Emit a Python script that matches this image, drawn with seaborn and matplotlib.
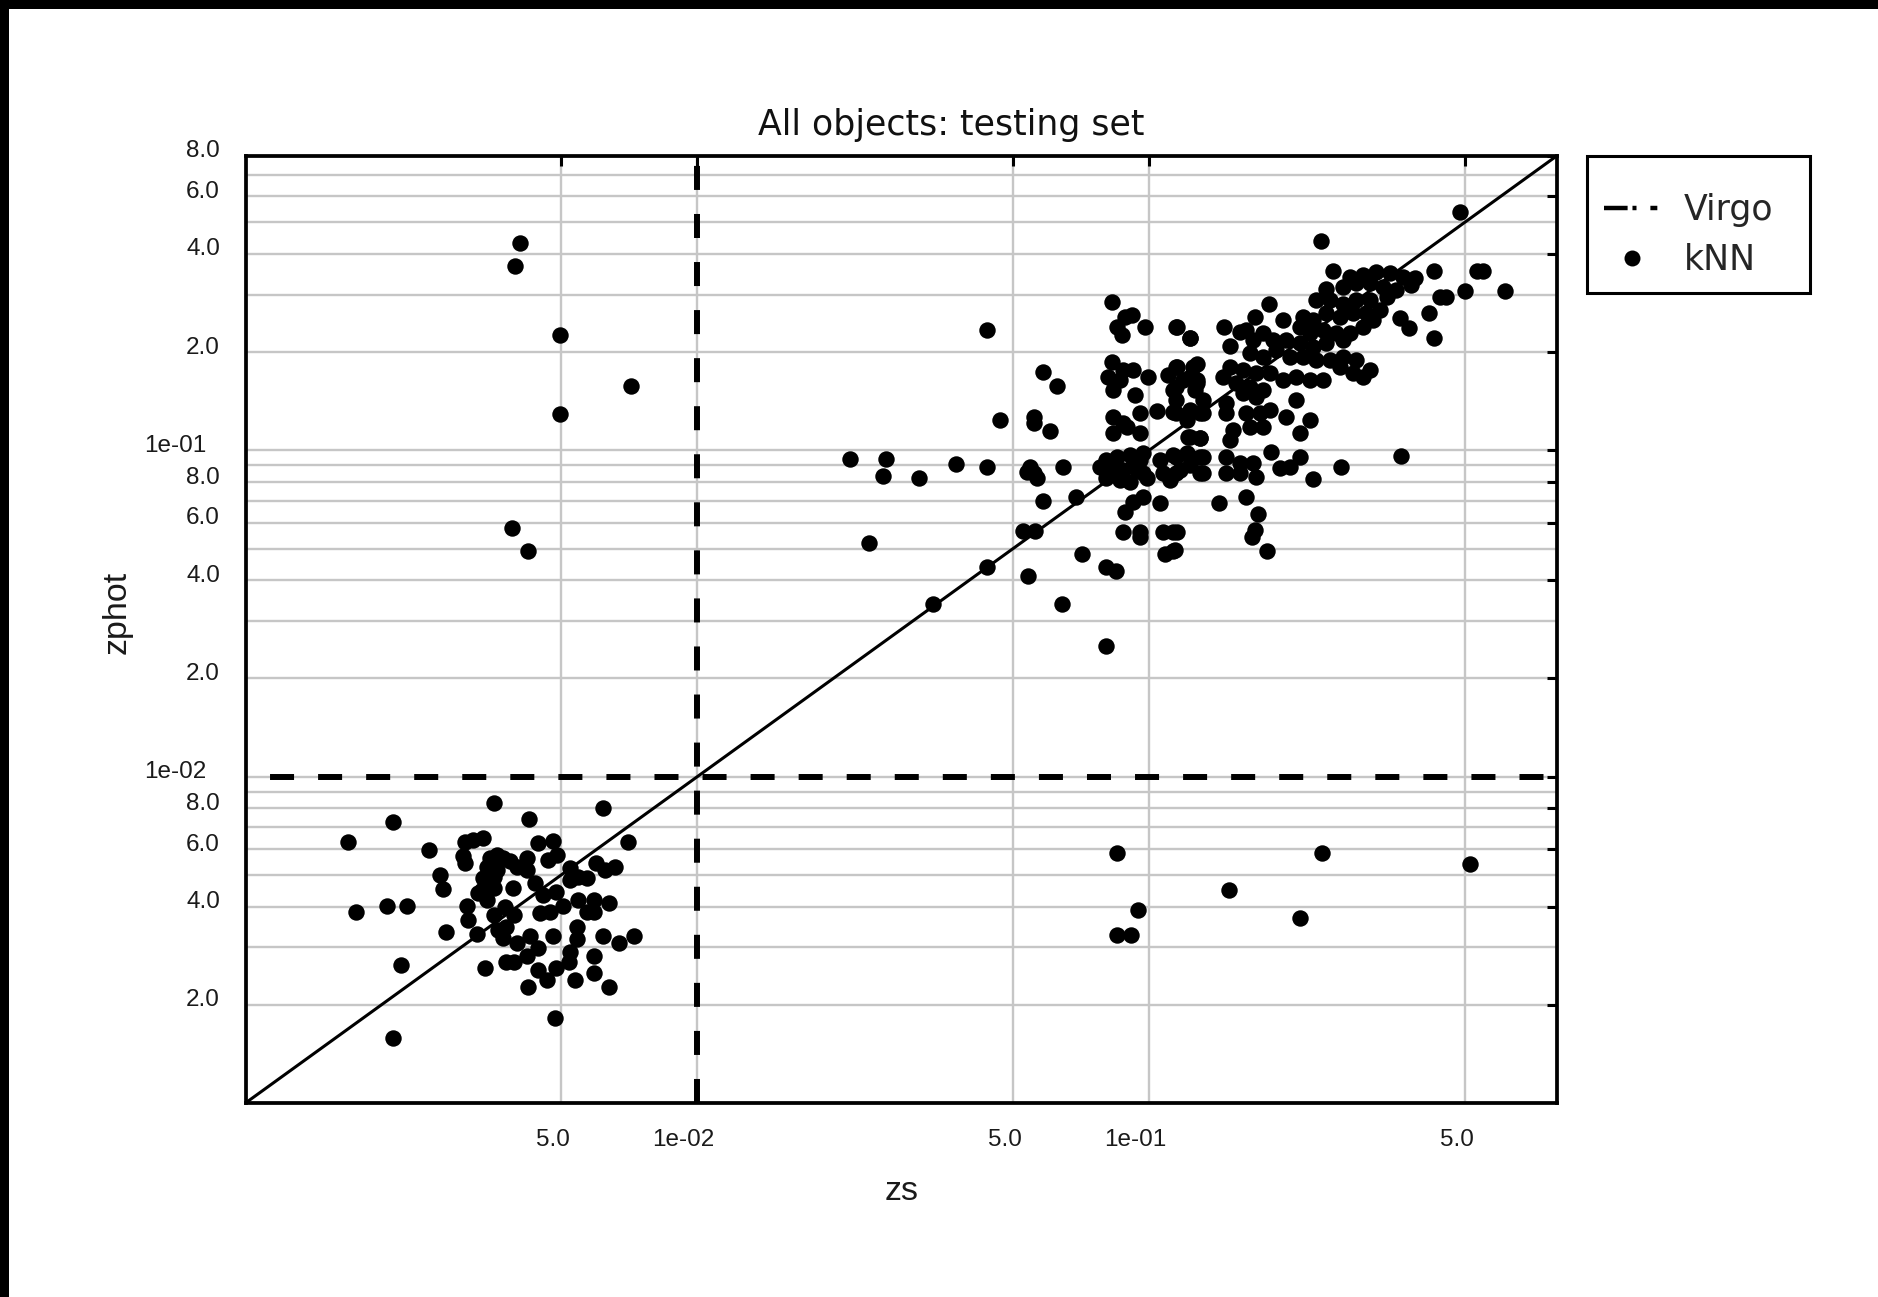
import numpy as np
import pandas as pd
import matplotlib
matplotlib.use("Agg")
import matplotlib.pyplot as plt
import seaborn as sns
from matplotlib.lines import Line2D
from matplotlib.patches import Rectangle
from matplotlib.ticker import FixedLocator, FixedFormatter, LogLocator, NullFormatter
from matplotlib.transforms import ScaledTranslation

# ---------------- data ----------------
virgo_z = 0.01
diag = [1e-3, 0.8]
axis_lim = [1e-3, 0.8]

# outliers: upper-left (zs < Virgo, zphot > Virgo) and lower-right
zs_out = [0.00406, 0.00394, 0.00498, 0.00712, 0.00498, 0.00388, 0.00421,
          0.0849, 0.0849, 0.0914, 0.0946, 0.150, 0.216, 0.242, 0.514]
zphot_out = [0.433, 0.368, 0.225, 0.158, 0.129, 0.0577, 0.0491,
             0.00582, 0.00327, 0.00327, 0.00391, 0.00448, 0.00368, 0.00582, 0.0054]

# low-redshift cluster (lower left)
zs_low = [0.00169, 0.00212, 0.00354, 0.00425, 0.00617, 0.00703, 0.00255, 0.00306, 0.00319, 0.00336,
          0.00303, 0.00306, 0.00270, 0.00274, 0.00176, 0.00206, 0.00228, 0.00278, 0.00325, 0.00221,
          0.00339, 0.00212, 0.00485, 0.00421, 0.00464, 0.00445, 0.00486, 0.00536, 0.00592, 0.00638,
          0.00592, 0.00521, 0.00522, 0.00378, 0.00392, 0.00419, 0.00445, 0.00479, 0.00543, 0.00543,
          0.00617, 0.00671, 0.00724, 0.00426, 0.00398, 0.00372, 0.00363, 0.00378, 0.00449, 0.00472,
          0.00505, 0.00545, 0.00592, 0.00638, 0.00569, 0.00590, 0.00487, 0.00438, 0.00456, 0.00391,
          0.00392, 0.00354, 0.00375, 0.00309, 0.00311, 0.00327, 0.00342, 0.00348, 0.00360, 0.00372,
          0.00385, 0.00398, 0.00419, 0.00419, 0.00342, 0.00360, 0.00336, 0.00354, 0.00445, 0.00479,
          0.00468, 0.00488, 0.00522, 0.00545, 0.00569, 0.00522, 0.00598, 0.00625, 0.00658, 0.00354,
          0.00333]
zphot_low = [0.00632, 0.00724, 0.00833, 0.00740, 0.00800, 0.00632, 0.00596, 0.00632, 0.00640, 0.00647,
             0.00571, 0.00543, 0.00500, 0.00452, 0.00386, 0.00402, 0.00402, 0.00335, 0.00330, 0.00265,
             0.00259, 0.00158, 0.00182, 0.00226, 0.00239, 0.00256, 0.00259, 0.00239, 0.00250, 0.00226,
             0.00282, 0.00271, 0.00291, 0.00271, 0.00271, 0.00282, 0.00298, 0.00324, 0.00347, 0.00318,
             0.00324, 0.00310, 0.00324, 0.00324, 0.00310, 0.00320, 0.00339, 0.00347, 0.00381, 0.00386,
             0.00402, 0.00419, 0.00419, 0.00409, 0.00386, 0.00384, 0.00442, 0.00471, 0.00435, 0.00455,
             0.00377, 0.00377, 0.00400, 0.00402, 0.00364, 0.00440, 0.00419, 0.00562, 0.00575, 0.00562,
             0.00550, 0.00530, 0.00562, 0.00518, 0.00530, 0.00518, 0.00489, 0.00494, 0.00625, 0.00635,
             0.00556, 0.00575, 0.00524, 0.00494, 0.00489, 0.00483, 0.00543, 0.00518, 0.00528, 0.00455,
             0.00450]

# main cluster, part 1 (zs ~ 0.02 - 0.13)
zs_mid = [0.0218, 0.0262, 0.0258, 0.0310, 0.0373, 0.0437, 0.0240, 0.0437, 0.0468, 0.0582,
          0.0625, 0.0557, 0.0557, 0.0605, 0.0546, 0.0555, 0.0564, 0.0536, 0.0644, 0.0582,
          0.0690, 0.0527, 0.0560, 0.0437, 0.0333, 0.0710, 0.0541, 0.0643, 0.0805, 0.0805,
          0.0845, 0.0877, 0.0955, 0.0955, 0.1057, 0.0886, 0.0923, 0.0972, 0.1076, 0.1151,
          0.1085, 0.1142,
          0.0827, 0.0848, 0.0886, 0.0916, 0.0980, 0.0870, 0.1151, 0.1233,
          0.0827, 0.0813, 0.0834, 0.0863, 0.0923, 0.0931, 0.0997, 0.0877,
          0.1104, 0.1151, 0.1253, 0.1275, 0.1132, 0.1265, 0.1191,
          0.0834, 0.0877, 0.0955, 0.0834, 0.0955, 0.0893, 0.1040, 0.1132, 0.1212, 0.1297,
          0.1219, 0.1297,
          0.0805, 0.0848, 0.0908, 0.0955, 0.0820, 0.0877, 0.0939, 0.0972, 0.0805, 0.0863,
          0.0908, 0.0834, 0.0923, 0.0779, 0.0968, 0.0989,
          0.1057, 0.1132, 0.1212, 0.1297, 0.1076, 0.1171, 0.1297, 0.1113, 0.1233]
zphot_mid = [0.0940, 0.0940, 0.0836, 0.0821, 0.0906, 0.0887, 0.0521, 0.234, 0.124, 0.174,
             0.157, 0.127, 0.121, 0.115, 0.0891, 0.0850, 0.0821, 0.0861, 0.0891, 0.0701,
             0.0718, 0.0568, 0.0568, 0.0438, 0.0338, 0.0483, 0.0413, 0.0338, 0.0251, 0.0438,
             0.0428, 0.0564, 0.0564, 0.0544, 0.0689, 0.0649, 0.0697, 0.0718, 0.0564, 0.0564,
             0.0483, 0.0495,
             0.2855, 0.2393, 0.2568, 0.2599, 0.2393, 0.2256, 0.2393, 0.2204,
             0.1869, 0.1681, 0.1531, 0.1642, 0.1762, 0.1478, 0.1674, 0.1762,
             0.1702, 0.1804, 0.1804, 0.1642, 0.1531, 0.1531, 0.1642,
             0.1268, 0.1211, 0.1299, 0.1127, 0.1127, 0.1181, 0.1323, 0.1314, 0.1239, 0.1299,
             0.1102, 0.1089,
             0.0934, 0.0956, 0.0968, 0.0934, 0.0871, 0.0871, 0.0871, 0.0850, 0.0821, 0.0811,
             0.0802, 0.0902, 0.0902, 0.0891, 0.0979, 0.0821,
             0.0934, 0.0968, 0.0979, 0.0956, 0.0850, 0.0871, 0.0850, 0.0811, 0.0902]

# main cluster, part 2 (zs ~ 0.11 - 0.61)
zs_high = [0.4875, 0.2408, 0.2556, 0.4276, 0.5308, 0.5491, 0.500, 0.6131, 0.4401, 0.4553,
           0.4169, 0.4276, 0.3763, 0.3589, 0.1845, 0.1150, 0.1235, 0.1466, 0.1509, 0.1714,
           0.1980, 0.1643, 0.1589,
           0.2782, 0.2978, 0.3188, 0.3412, 0.3652, 0.3875, 0.3810, 0.3530, 0.3298, 0.3081,
           0.2879, 0.2689, 0.2470, 0.2347, 0.2512, 0.2689, 0.2879, 0.3081, 0.3355, 0.3242,
           0.3029, 0.2830, 0.2644, 0.2470, 0.2308, 0.2194, 0.2157, 0.2269, 0.2428, 0.2600,
           0.2782, 0.2978, 0.3134, 0.2689, 0.2470, 0.2308, 0.2157, 0.2014, 0.1883, 0.1789,
           0.1700, 0.1671, 0.1789, 0.1915, 0.2049, 0.2194, 0.2347, 0.2512, 0.2689, 0.2879,
           0.3081, 0.2830, 0.2978, 0.2644, 0.2428, 0.2269, 0.2120, 0.1980, 0.1851, 0.1729,
           0.1616, 0.1509, 0.1459, 0.1561, 0.1671, 0.1789, 0.1729, 0.1616, 0.1484, 0.1484,
           0.1231, 0.1317, 0.1150, 0.1643, 0.1759, 0.1851, 0.1671, 0.1789, 0.2014, 0.2120,
           0.2269, 0.2157, 0.1535, 0.1509, 0.1231, 0.1296, 0.1150, 0.1231, 0.1317, 0.1317,
           0.1150, 0.1484, 0.1484, 0.1589, 0.1700, 0.1729, 0.1589, 0.1866, 0.1948, 0.2049,
           0.2157, 0.2308, 0.2667, 0.3609, 0.1429, 0.1643, 0.1744, 0.1714, 0.1686, 0.1820,
           0.1131, 0.1131, 0.1231, 0.1274, 0.1150, 0.1150, 0.1274, 0.1317, 0.1150]
zphot_high = [0.536, 0.4388, 0.3552, 0.3552, 0.3552, 0.3552, 0.3084, 0.3084, 0.2956, 0.2956,
              0.2629, 0.2203, 0.2380, 0.2537, 0.2807, 0.2391, 0.2214, 0.2391, 0.2088, 0.2567,
              0.2507, 0.2336, 0.2309,
              0.3404, 0.3445, 0.3527, 0.3486, 0.3404, 0.3364, 0.3209, 0.3099, 0.3171, 0.3247,
              0.3247, 0.3171, 0.3134, 0.2886, 0.2886, 0.2819, 0.2886, 0.2886, 0.2956, 0.2690,
              0.2629, 0.2629, 0.2567, 0.2629, 0.2507, 0.2567, 0.2391, 0.2282, 0.2336, 0.2282,
              0.2282, 0.2391, 0.2507, 0.2177, 0.2126, 0.2077, 0.2126, 0.2177, 0.2177, 0.2282,
              0.2177, 0.1982, 0.1936, 0.2029, 0.1936, 0.1936, 0.1891, 0.1891, 0.1936, 0.1891,
              0.1762, 0.1721, 0.1681, 0.1804, 0.1642, 0.1642, 0.1681, 0.1642, 0.1721, 0.1721,
              0.1762, 0.1804, 0.1681, 0.1604, 0.1566, 0.1530, 0.1460, 0.1494, 0.1393, 0.1298,
              0.1328, 0.1298, 0.1298, 0.1298, 0.1298, 0.1328, 0.1181, 0.1181, 0.1268, 0.1426,
              0.1238, 0.1127, 0.1153, 0.1075, 0.1101, 0.1088, 0.0956, 0.0956, 0.0956, 0.0850,
              0.0850, 0.0956, 0.0850, 0.0912, 0.0912, 0.0830, 0.0850, 0.0986, 0.0881, 0.0891,
              0.0956, 0.0820, 0.0891, 0.0963, 0.0688, 0.0721, 0.0638, 0.0570, 0.0543, 0.0491,
              0.0563, 0.0491, 0.1681, 0.1846, 0.1804, 0.1566, 0.1604, 0.1426, 0.1426]

xtick_vals = [5e-3, 1e-2, 5e-2, 1e-1, 5e-1]
xtick_labels = ["5.0", "1e-02", "5.0", "1e-01", "5.0"]
ytick_vals = [2e-3, 4e-3, 6e-3, 8e-3, 1e-2, 2e-2, 4e-2, 6e-2, 8e-2, 1e-1, 2e-1, 4e-1, 6e-1, 8e-1]
ytick_labels = ["2.0", "4.0", "6.0", "8.0", "1e-02", "2.0", "4.0", "6.0", "8.0", "1e-01",
                "2.0", "4.0", "6.0", "8.0"]

df = pd.DataFrame({
    "zs": zs_out + zs_low + zs_mid + zs_high,
    "zphot": zphot_out + zphot_low + zphot_mid + zphot_high,
})

# ---------------- figure ----------------
sns.set_theme(style="white")
plt.rcParams["font.family"] = ["Liberation Sans", "DejaVu Sans"]
plt.rcParams["lines.scale_dashes"] = False

W, H = 1878, 1297
fig = plt.figure(figsize=(W / 100, H / 100), dpi=100, facecolor="white")
ax = fig.add_axes([245.5 / W, 1 - 1103 / H, 1311.5 / W, 947.3 / H])
ax.set_facecolor("white")

# black strips on the top and left edge of the picture
fig.patches.append(Rectangle((0, 1 - 9 / H), 1, 9 / H, transform=fig.transFigure,
                             facecolor="black", edgecolor="none", zorder=0))
fig.patches.append(Rectangle((0, 0), 9 / W, 1, transform=fig.transFigure,
                             facecolor="black", edgecolor="none", zorder=0))

ax.set_xscale("log")
ax.set_yscale("log")
ax.set_xlim(axis_lim)
ax.set_ylim(axis_lim)

# grid
grid_col = "#c6c6c6"
ax.xaxis.set_major_locator(FixedLocator(xtick_vals))
ax.xaxis.set_major_formatter(FixedFormatter(xtick_labels))
ax.xaxis.set_minor_locator(FixedLocator([]))
ax.yaxis.set_major_locator(FixedLocator(ytick_vals))
ax.yaxis.set_major_formatter(FixedFormatter(ytick_labels))
ax.yaxis.set_minor_locator(LogLocator(base=10, subs=np.arange(1, 10), numticks=50))
ax.yaxis.set_minor_formatter(NullFormatter())
ax.grid(True, which="major", axis="both", color=grid_col, lw=1.7, zorder=0)
ax.grid(True, which="minor", axis="y", color=grid_col, lw=1.7, zorder=0)
ax.set_axisbelow(True)

ax.tick_params(axis="both", which="major", direction="in", length=7, width=2.2,
               color="black", top=True, right=True, labelsize=17.5, labelcolor="#1a1a1a")
ax.tick_params(axis="y", which="minor", length=0)
ax.tick_params(axis="x", which="major", pad=19)
ax.tick_params(axis="y", which="major", pad=18.4)

for sp in ax.spines.values():
    sp.set_color("black")
    sp.set_linewidth(2.7)

# 1:1 line and Virgo limits
sns.lineplot(x=diag, y=diag, ax=ax, color="black", lw=2.2, zorder=3)
ax.axhline(virgo_z, color="black", lw=4.3, linestyle=(17.3, (17.3, 17.3)), zorder=4)
ax.axvline(virgo_z, color="black", lw=4.3, linestyle=(0, (17.3, 17.3)), zorder=4)

# kNN points
sns.scatterplot(data=df, x="zs", y="zphot", ax=ax, color="black", s=140,
                linewidth=0, zorder=5, legend=False)

# labels
ax.set_xlabel("zs", fontsize=24.5, color="#1a1a1a")
ax.set_ylabel("zphot", fontsize=24.5, color="#1a1a1a")
ax.xaxis.label.set_va("center")
ax.yaxis.label.set_va("center")
ax.xaxis.set_label_coords(0.5, (1103 - 1192) / 947.3)
ax.yaxis.set_label_coords((117 - 245.5) / 1311.5, (1103 - 612) / 947.3)

fig.text(951 / W, 1 - 135 / H, "All objects: testing set", ha="center", va="baseline",
         fontsize=25, family="DejaVu Sans", color="#111111")

# legend (entries placed without frame; box drawn around them)
virgo_handle = Line2D([], [], color="black", lw=3.2,
                      dashes=(17, 3.5, 2.9, 10, 5, 30))
knn_handle = Line2D([], [], color="black", ls="none", marker="o", markersize=11.5,
                    markeredgewidth=0)
leg = ax.legend([virgo_handle, knn_handle], ["Virgo", "kNN"],
                loc="upper left", bbox_to_anchor=(1604 / W, 1 - 193 / H),
                bbox_transform=fig.transFigure, frameon=False,
                prop={"family": "DejaVu Sans", "size": 25}, borderpad=0,
                handlelength=1.6, handletextpad=0.7, labelspacing=0.46, borderaxespad=0)
fig.patches.append(Rectangle((1587 / W, 1 - 293 / H), 223 / W, 137 / H,
                             transform=fig.transFigure, facecolor="none",
                             edgecolor="black", lw=2.2, zorder=1))

# fine placement of the tick labels
fig.canvas.draw()
for lab in ax.get_yticklabels():
    dx = -14 if lab.get_text().startswith("1e") else 0
    lab.set_transform(lab.get_transform() + ScaledTranslation(dx / 100, 7 / 100, fig.dpi_scale_trans))
for lab in ax.get_xticklabels():
    dx = -14 if lab.get_text().startswith("1e") else -8
    lab.set_transform(lab.get_transform() + ScaledTranslation(dx / 100, 0, fig.dpi_scale_trans))

fig.savefig("out.png", dpi=100, facecolor="white")
